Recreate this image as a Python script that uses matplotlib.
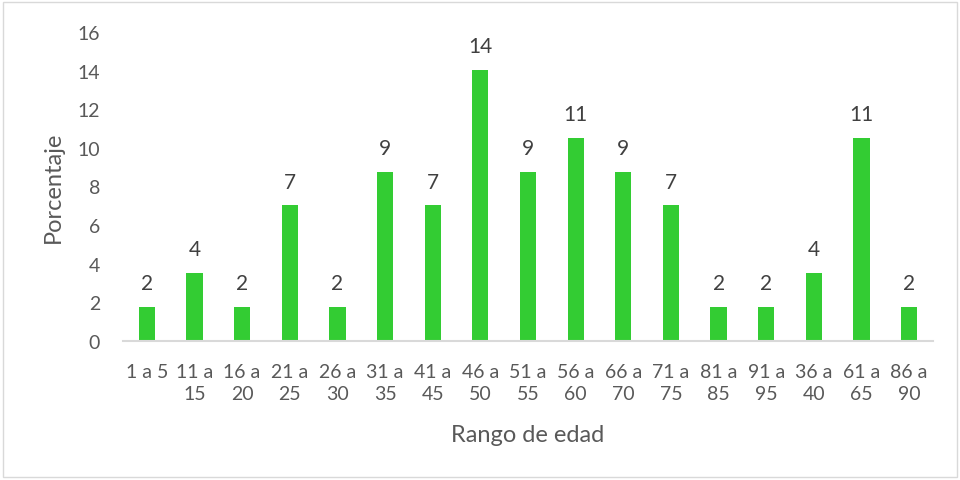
import matplotlib.pyplot as plt
from matplotlib.patches import Rectangle

categories = ["1 a 5", "11 a\n15", "16 a\n20", "21 a\n25", "26 a\n30", "31 a\n35",
              "41 a\n45", "46 a\n50", "51 a\n55", "56 a\n60", "66 a\n70", "71 a\n75",
              "81 a\n85", "91 a\n95", "36 a\n40", "61 a\n65", "86 a\n90"]
values = [1.75, 3.51, 1.75, 7.02, 1.75, 8.77, 7.02, 14.04, 8.77, 10.53, 8.77,
          7.02, 1.75, 1.75, 3.51, 10.53, 1.75]
value_labels = ["2", "4", "2", "7", "2", "9", "7", "14", "9", "11", "9", "7",
                "2", "2", "4", "11", "2"]

plt.rcParams["font.family"] = ["Lato", "DejaVu Sans"]
text_color = "#595959"

fig = plt.figure(figsize=(9.6, 4.81), dpi=100)
ax = fig.add_axes([123 / 960, (481 - 342) / 481, 810 / 960, 309 / 481])

x = range(len(categories))
bars = ax.bar(x, values, width=0.34, color="#33cc33")
for bar, lab in zip(bars, value_labels):
    ax.annotate(lab, (bar.get_x() + bar.get_width() / 2, bar.get_height()),
                xytext=(0, 10), textcoords="offset points", ha="center", va="bottom",
                fontsize=15, color="#404040")

ax.set_xlim(-0.5, len(categories) - 0.5)
ax.set_ylim(0, 16)
ax.set_yticks(range(0, 17, 2))
ax.set_xticks(list(x))
ax.set_xticklabels(categories, fontsize=14, color=text_color, linespacing=1.4, va="top")
ax.tick_params(axis="y", labelsize=14, labelcolor=text_color, length=0, pad=16.5)
ax.tick_params(axis="x", length=0, pad=15.5)
for side in ["top", "right", "left"]:
    ax.spines[side].set_visible(False)
ax.spines["bottom"].set_color("#d9d9d9")
ax.spines["bottom"].set_linewidth(1.5)

ax.set_ylabel("Porcentaje", fontsize=17, color=text_color, labelpad=10)
ax.set_xlabel("Rango de edad", fontsize=17, color=text_color, labelpad=16)

fig.patches.append(Rectangle((3 / 960, 3 / 481), 954 / 960, 475 / 481, transform=fig.transFigure,
                             fill=False, edgecolor="#d9d9d9", linewidth=1))

fig.savefig("out.png", dpi=100)
